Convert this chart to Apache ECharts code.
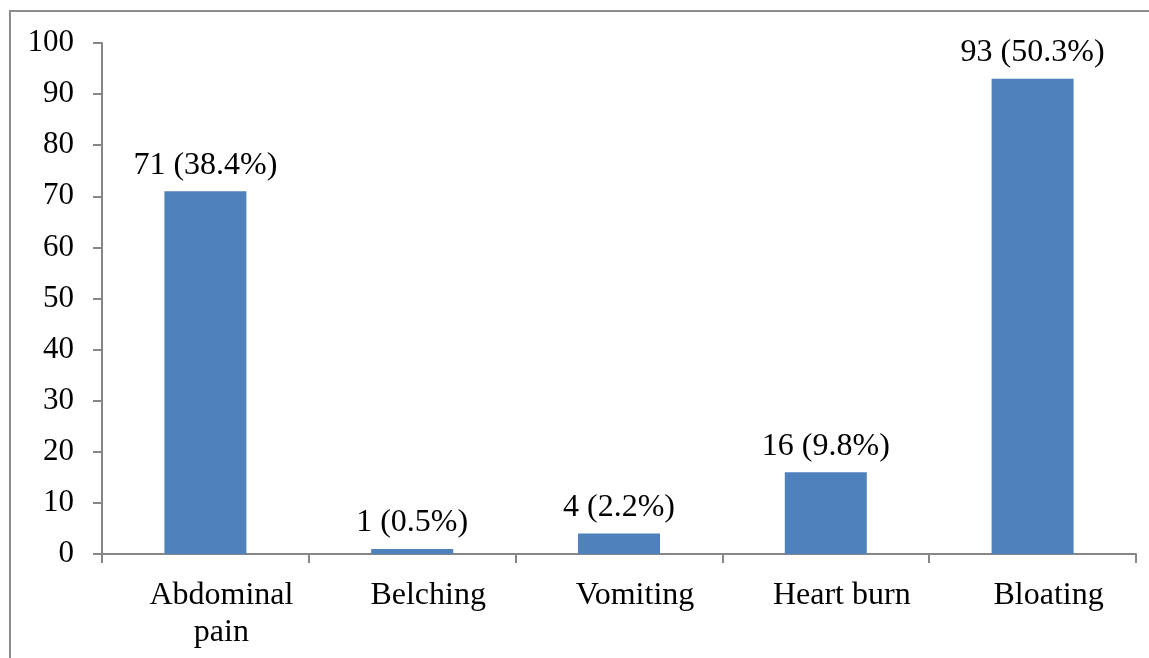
<!DOCTYPE html>
<html>
<head>
<meta charset="utf-8">
<script src="https://cdn.jsdelivr.net/npm/echarts@6/dist/echarts.min.js"></script>
<style>
  html, body { margin: 0; padding: 0; background: #fff; }
  #chart { width: 1149px; height: 658px; }
</style>
</head>
<body>
<div id="chart"></div>
<script>
const categories = ['Abdominal\npain', 'Belching', 'Vomiting', 'Heart burn', 'Bloating'];
const counts = [71, 1, 4, 16, 93];
const percents = ['38.4%', '0.5%', '2.2%', '9.8%', '50.3%'];

const font = 'Liberation Serif, Times New Roman, serif';
const axisGrey = '#868686';

const chart = echarts.init(document.getElementById('chart'));
chart.setOption({
  animation: false,
  // outer frame, only left and top edges fall inside the picture
  graphic: [{
    type: 'polyline',
    shape: { points: [[10, 700], [10, 11], [1200, 11]] },
    style: { fill: null, stroke: '#8c8c8c', lineWidth: 2 },
    z: -1
  }],
  grid: { left: 102, right: 13, top: 43, bottom: 104 },
  xAxis: {
    type: 'category',
    data: categories,
    axisLine: { lineStyle: { color: axisGrey, width: 2 } },
    axisTick: { show: true, length: 9, lineStyle: { color: axisGrey, width: 2 } },
    axisLabel: {
      color: '#000', fontFamily: font, fontSize: 32, margin: 23, lineHeight: 37,
      interval: 0,
      padding: [0, 0, 0, 32]   // labels sit a little right of the bar centres
    }
  },
  yAxis: {
    type: 'value',
    min: 0, max: 100, interval: 10,
    splitLine: { show: false },
    axisLine: { show: true, lineStyle: { color: axisGrey, width: 2 } },
    axisTick: { show: true, length: 9, lineStyle: { color: axisGrey, width: 2 } },
    axisLabel: { color: '#000', fontFamily: font, fontSize: 31, margin: 28 }
  },
  series: [{
    type: 'bar',
    data: counts,
    barWidth: 82,
    itemStyle: { color: '#4F81BD' },
    label: {
      show: true,
      position: 'top',
      distance: 10,
      color: '#000',
      fontFamily: font,
      fontSize: 32,
      formatter: p => p.value + ' (' + percents[p.dataIndex] + ')'
    }
  }]
});
</script>
</body>
</html>
